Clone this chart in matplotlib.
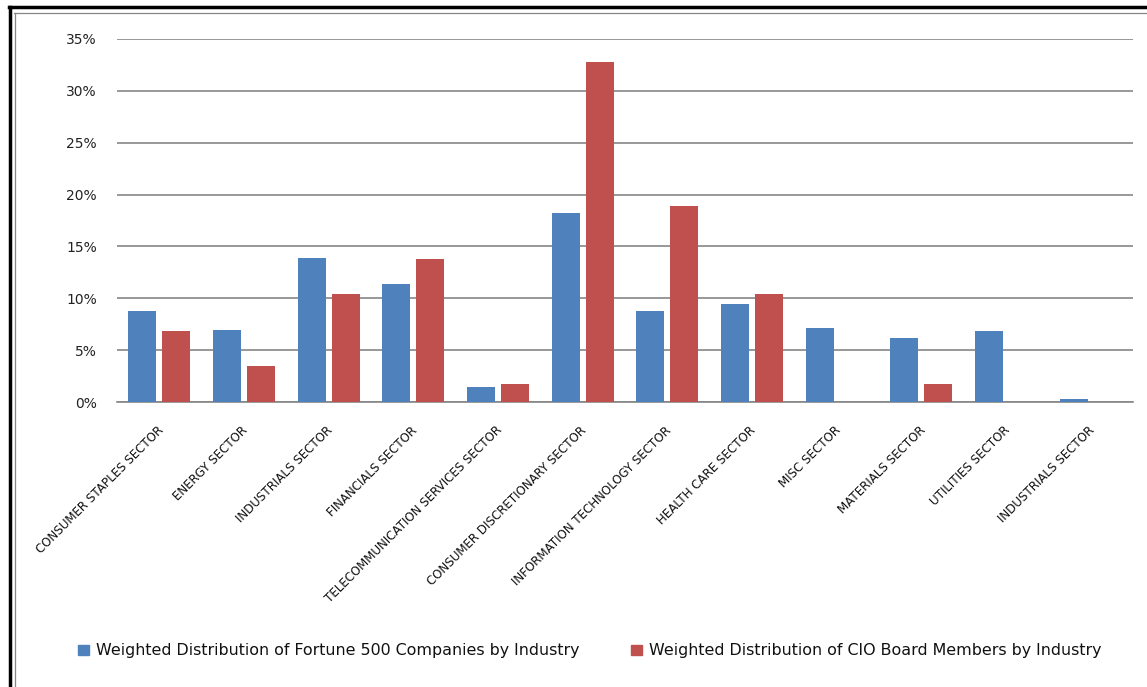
import matplotlib
matplotlib.use("Agg")
import matplotlib.pyplot as plt
import matplotlib.transforms as mtransforms
from matplotlib.patches import Patch
from matplotlib.lines import Line2D
import numpy as np

categories = [
    "CONSUMER STAPLES SECTOR", "ENERGY SECTOR", "INDUSTRIALS SECTOR",
    "FINANCIALS SECTOR", "TELECOMMUNICATION SERVICES SECTOR",
    "CONSUMER DISCRETIONARY SECTOR", "INFORMATION TECHNOLOGY SECTOR",
    "HEALTH CARE SECTOR", "MISC SECTOR", "MATERIALS SECTOR",
    "UTILITIES SECTOR", "INDUSTRIALS SECTOR",
]
fortune500 = [8.8, 6.9, 13.9, 11.4, 1.45, 18.2, 8.8, 9.45, 7.1, 6.2, 6.85, 0.3]
cio_board = [6.8, 3.5, 10.4, 13.8, 1.75, 32.8, 18.9, 10.4, 0.0, 1.75, 0.0, 0.0]
yticks = [0, 5, 10, 15, 20, 25, 30, 35]
ytick_labels = ["0%", "5%", "10%", "15%", "20%", "25%", "30%", "35%"]
series_names = [
    "Weighted Distribution of Fortune 500 Companies by Industry",
    "Weighted Distribution of CIO Board Members by Industry",
]
BLUE = "#4F81BD"
RED = "#C0504D"
GRID = "#868686"

W, H = 1147, 687
fig = plt.figure(figsize=(W / 100, H / 100), dpi=100)
fig.patch.set_facecolor("white")

ax = fig.add_axes([117 / W, 1 - 402 / H, (1133 - 117) / W, (402 - 39) / H])
x = np.arange(len(categories))
bw = 0.33
ax.bar(x - 0.2, fortune500, width=bw, color=BLUE, zorder=3)
ax.bar(x + 0.2, cio_board, width=bw, color=RED, zorder=3)

ax.set_xlim(-0.5, len(categories) - 0.5)
ax.set_ylim(0, 35)
ax.set_yticks(yticks)
ax.set_yticklabels(ytick_labels, fontsize=10, color="#222222")
ax.tick_params(axis="y", length=0, pad=14.5)
ax.yaxis.grid(True, color=GRID, linewidth=1.2, zorder=0)
for s in ["left", "right", "top"]:
    ax.spines[s].set_visible(False)
ax.spines["bottom"].set_color(GRID)
ax.spines["bottom"].set_linewidth(1.2)

ax.set_xticks(x)
ax.set_xticklabels(categories, fontsize=8.6, rotation=45, ha="right",
                   va="center", rotation_mode="anchor", color="#111111")
ax.tick_params(axis="x", length=0, pad=19)
offset = mtransforms.ScaledTranslation(2 / 100, 0, fig.dpi_scale_trans)
for lab in ax.get_xticklabels():
    lab.set_transform(lab.get_transform() + offset)

# legends
for name, col, xpos in [(series_names[0], BLUE, 64), (series_names[1], RED, 617)]:
    fig.legend(handles=[Patch(facecolor=col, edgecolor=col, label=name)],
               loc="center left", bbox_to_anchor=(xpos / W, 1 - 651 / H),
               frameon=False, fontsize=11.4, handlelength=0.68,
               handleheight=0.68, handletextpad=0.45, labelcolor="#111111")

# frame lines
fig.add_artist(Line2D([10 / W, 10 / W], [0, 1 - 7 / H], color="black", lw=2.5,
                      transform=fig.transFigure))
fig.add_artist(Line2D([9 / W, 1], [1 - 7 / H, 1 - 7 / H], color="black", lw=2.5,
                      transform=fig.transFigure))
fig.add_artist(Line2D([14.5 / W, 14.5 / W], [0, 1 - 13 / H], color=GRID, lw=0.9,
                      transform=fig.transFigure))
fig.add_artist(Line2D([14 / W, 1], [1 - 13 / H, 1 - 13 / H], color=GRID, lw=0.9,
                      transform=fig.transFigure))

fig.savefig("out.png", dpi=100, facecolor="white")
